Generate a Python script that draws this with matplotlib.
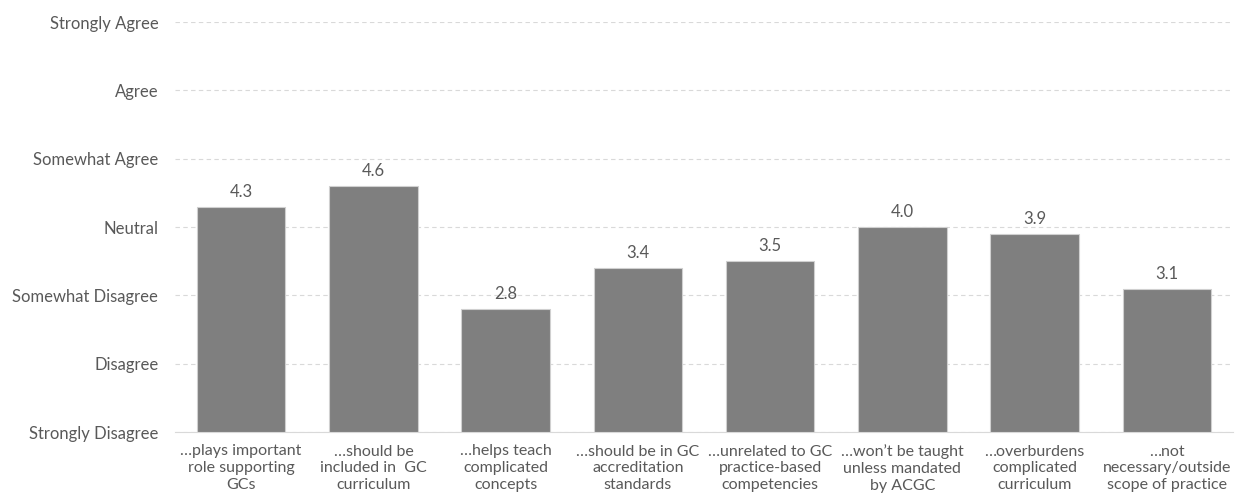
import matplotlib.pyplot as plt

categories = [
    "\u2026plays important\nrole supporting\nGCs",
    "\u2026should be\nincluded in  GC\ncurriculum",
    "\u2026helps teach\ncomplicated\nconcepts",
    "\u2026should be in GC\naccreditation\nstandards",
    "\u2026unrelated to GC\npractice-based\ncompetencies",
    "\u2026won\u2019t be taught\nunless mandated\nby ACGC",
    "\u2026overburdens\ncomplicated\ncurriculum",
    "\u2026not\nnecessary/outside\nscope of practice",
]
values = [4.3, 4.6, 2.8, 3.4, 3.5, 4.0, 3.9, 3.1]
scale_labels = ["Strongly Disagree", "Disagree", "Somewhat Disagree", "Neutral",
                "Somewhat Agree", "Agree", "Strongly Agree"]
scale_values = [1, 2, 3, 4, 5, 6, 7]

plt.rcParams['font.family'] = ['Lato', 'DejaVu Sans']
text_color = '#595959'

fig = plt.figure(figsize=(12.37, 5.04), dpi=100)
ax = fig.add_axes([175 / 1237, 1 - 432 / 504, (1233 - 175) / 1237, (432 - 22) / 504])

x = list(range(len(values)))
heights = [v - 1 for v in values]
ax.bar(x, heights, bottom=1, width=0.67, color='#7f7f7f',
       edgecolor='#d0d0d0', linewidth=0.8, zorder=3)
for xi, v in zip(x, values):
    ax.text(xi, v + 0.1, f"{v:.1f}", ha='center', va='bottom',
            fontsize=12, color=text_color)

ax.set_xlim(-0.5, len(values) - 0.5)
ax.set_ylim(1, 7)
ax.set_yticks(scale_values)
ax.set_yticklabels(scale_labels, fontsize=12, color=text_color)
ax.set_xticks(x)
ax.set_xticklabels(categories, fontsize=11.5, color=text_color, linespacing=1.25)
ax.tick_params(axis='both', length=0)
ax.tick_params(axis='y', pad=12)
ax.tick_params(axis='x', pad=9)

ax.yaxis.grid(True, color='#d9d9d9', linestyle=(0, (4, 3)), linewidth=0.8, zorder=0)
for side in ['top', 'right', 'left']:
    ax.spines[side].set_visible(False)
ax.spines['bottom'].set_color('#d9d9d9')

plt.savefig('out.png', dpi=100)
